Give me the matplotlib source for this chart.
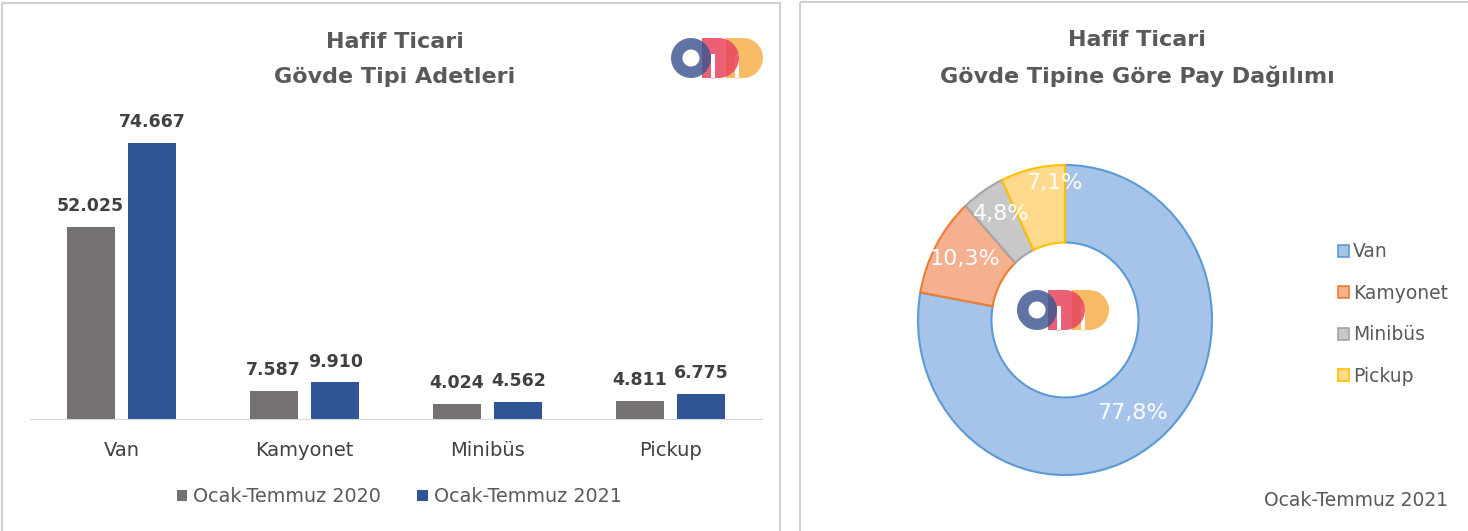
import numpy as np
import matplotlib
matplotlib.use("Agg")
import matplotlib.pyplot as plt
from matplotlib.patches import Rectangle, PathPatch, Patch
from matplotlib.path import Path

plt.rcParams['font.family'] = ['DejaVu Sans']

categories = ["Van", "Kamyonet", "Minibüs", "Pickup"]
series_names = ["Ocak-Temmuz 2020", "Ocak-Temmuz 2021"]
values_2020 = [52025, 7587, 4024, 4811]
values_2021 = [74667, 9910, 4562, 6775]
bar_colors = ["#767171", "#2f5597"]

pie_labels = ["Van", "Kamyonet", "Minibüs", "Pickup"]
pie_values = values_2021
pie_fill = ["#a6c3e9", "#f5b08f", "#c8c8c8", "#ffd98c"]
pie_edge = ["#5b9bd5", "#ed7d31", "#a5a5a5", "#ffc000"]

W, H = 1468, 531
fig = plt.figure(figsize=(W / 100, H / 100), dpi=100)
fig.patch.set_facecolor("white")

def px_rect(x0, y0, x1, y1):
    return [x0 / W, 1 - y1 / H, (x1 - x0) / W, (y1 - y0) / H]

# panel borders
bg = fig.add_axes([0, 0, 1, 1])
bg.set_xlim(0, W); bg.set_ylim(H, 0); bg.axis("off")
bg.add_patch(Rectangle((2, 3), 778, 540, fill=False, ec="#d0d0d0", lw=1.5))
bg.add_patch(Rectangle((800, 2), 680, 540, fill=False, ec="#d0d0d0", lw=1.5))

def fmt_th(v):
    return f"{v:,}".replace(",", ".")

# ---- bar chart ----
ax = fig.add_axes(px_rect(30, 100, 762, 419))
x = np.arange(len(categories))
bw = 0.262
off = 0.169
b1 = ax.bar(x - off, values_2020, bw, color=bar_colors[0], label=series_names[0])
b2 = ax.bar(x + off, values_2021, bw, color=bar_colors[1], label=series_names[1])
ax.set_xlim(-0.5, 3.5)
ax.set_ylim(0, 86290)
for bars, vals in ((b1, values_2020), (b2, values_2021)):
    for r, v in zip(bars, vals):
        ax.text(r.get_x() + r.get_width() / 2, v + 3200, fmt_th(v), ha="center", va="bottom",
                fontsize=12.5, fontweight="bold", color="#404040")
for s in ["top", "right", "left"]:
    ax.spines[s].set_visible(False)
ax.spines["bottom"].set_color("#d9d9d9")
ax.set_yticks([])
ax.set_xticks(x)
ax.set_xticklabels(categories, fontsize=14, color="#404040")
ax.tick_params(axis="x", length=0, pad=16)
ax.set_facecolor("none")
fig.legend(handles=[b1, b2], labels=series_names, loc="center", bbox_to_anchor=(399 / W, 1 - 497 / H),
           ncol=2, frameon=False, fontsize=13.8, handlelength=0.55, handleheight=0.55, handletextpad=0.3,
           columnspacing=1.9, labelcolor="#595959")

fig.text(395 / W, 1 - 42 / H, "Hafif Ticari", ha="center", va="center", fontsize=16,
         fontweight="bold", color="#595959")
fig.text(395 / W, 1 - 77 / H, "Gövde Tipi Adetleri", ha="center", va="center", fontsize=16,
         fontweight="bold", color="#595959")

# ---- donut ----
pax = fig.add_axes(px_rect(918, 165, 1212, 475))
wedges, texts, autotexts = pax.pie(
    pie_values, startangle=90, counterclock=False, radius=1,
    colors=pie_fill, wedgeprops=dict(width=0.5, linewidth=1.5),
    autopct=lambda p: f"{p:.1f}%".replace(".", ","), pctdistance=0.78,
    textprops=dict(color="white", fontsize=16))
for w, ec in zip(wedges, pie_edge):
    w.set_edgecolor(ec)
# nudge labels the way the source chart places them
nudges = [(-0.04, 0.0), (0.0, 0.02), (0.0, 0.04), (0.10, 0.12)]
for t, (dx, dy) in zip(autotexts, nudges):
    px, py = t.get_position()
    t.set_position((px + dx, py + dy))
pax.set_aspect("auto")
pax.set_xlim(-1, 1); pax.set_ylim(-1, 1)
pax.axis("off")

fig.text(1137 / W, 1 - 40 / H, "Hafif Ticari", ha="center", va="center", fontsize=16,
         fontweight="bold", color="#595959")
fig.text(1137 / W, 1 - 76 / H, "Gövde Tipine Göre Pay Dağılımı", ha="center", va="center",
         fontsize=16, fontweight="bold", color="#595959")

handles = [Patch(facecolor=f, edgecolor=e, lw=1.2) for f, e in zip(pie_fill, pie_edge)]
fig.legend(handles=handles, labels=pie_labels, loc="center left",
           bbox_to_anchor=(1321 / W, 1 - 314 / H), frameon=False, fontsize=13.5,
           handlelength=0.6, handleheight=0.6, handletextpad=0.2, labelspacing=1.2,
           labelcolor="#595959")
fig.text(1356 / W, 1 - 500 / H, "Ocak-Temmuz 2021", ha="center", va="center", fontsize=13.5,
         color="#595959")

# ---- logos ----
def d_path(x0, w, h, slot_x, slot_w, slot_top):
    r = h / 2
    xs = x0 + w - r
    verts = [(x0, 0), (xs, 0)]
    angs = np.linspace(-np.pi / 2, np.pi / 2, 40)
    verts += [(xs + r * np.cos(a), r + r * np.sin(a)) for a in angs]
    verts += [(x0, h), (x0, 0)]
    codes = [Path.MOVETO] + [Path.LINETO] * (len(verts) - 2) + [Path.CLOSEPOLY]
    hole = [(slot_x, -0.5), (slot_x, slot_top), (slot_x + slot_w, slot_top), (slot_x + slot_w, -0.5), (slot_x, -0.5)]
    hcodes = [Path.MOVETO, Path.LINETO, Path.LINETO, Path.LINETO, Path.CLOSEPOLY]
    return Path(verts + hole, codes + hcodes)

def ring_path(cx, cy, ro, ri):
    a = np.linspace(0, 2 * np.pi, 80)
    outer = list(zip(cx + ro * np.cos(a), cy + ro * np.sin(a)))
    inner = list(zip(cx + ri * np.cos(a[::-1]), cy + ri * np.sin(a[::-1])))
    codes = [Path.MOVETO] + [Path.LINETO] * 78 + [Path.CLOSEPOLY]
    return Path(outer + inner, codes + codes)

def logo(x0, y0):
    lax = fig.add_axes(px_rect(x0, y0, x0 + 92, y0 + 42))
    lax.set_xlim(0, 92); lax.set_ylim(-1, 41); lax.axis("off")
    lax.add_patch(PathPatch(d_path(55, 37, 40, 64, 4, 24), fc="#f7b04a", ec="none", alpha=0.85))
    lax.add_patch(PathPatch(d_path(31, 37, 40, 40, 4, 24), fc="#e8445c", ec="none", alpha=0.85))
    lax.add_patch(PathPatch(ring_path(20, 20, 20, 8.5), fc="#3d5590", ec="none", alpha=0.82))

logo(671, 37)
logo(1017, 289)

fig.savefig("out.png", dpi=100, facecolor="white")
